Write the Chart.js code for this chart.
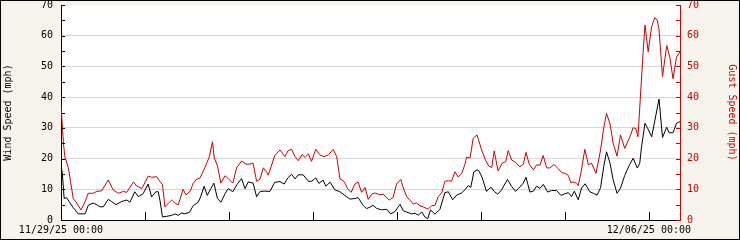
<!DOCTYPE html>
<html>
<head>
<meta charset="utf-8">
<script src="https://cdn.jsdelivr.net/npm/chart.js@4/dist/chart.umd.min.js"></script>
<style>
  html, body { margin: 0; padding: 0; background: #f5f3eb; }
  #wrap { width: 740px; height: 240px; }
</style>
</head>
<body>
<div id="wrap"><canvas id="chart" width="740" height="240"></canvas></div>
<script>
// hours since 11/29/25 00:00
const windHours = [0, 0.4, 0.9, 1.6, 2.3, 3.5, 4.9, 6.9, 7.8, 9.2, 10.2, 11.1, 12.1, 13.5, 14.5, 15.7, 17.3, 18.8, 19.7, 21.1, 22.1, 23.5, 24.9, 25.9, 27.1, 27.8, 28.3, 29.0, 30.2, 31.6, 32.6, 33.5, 34.5, 35.4, 36.7, 37.8, 39.2, 39.9, 40.9, 41.8, 42.8, 43.7, 44.7, 45.7, 46.9, 47.8, 49.1, 50.2, 51.6, 52.6, 53.5, 54.9, 55.9, 56.9, 58.3, 59.7, 61.1, 62.6, 63.8, 64.8, 65.9, 66.9, 67.8, 69.2, 70.7, 71.6, 72.8, 73.7, 74.9, 75.7, 76.9, 78.3, 79.7, 81.1, 82.6, 84.0, 84.9, 86.4, 87.3, 88.3, 89.2, 90.2, 91.6, 93.1, 94.2, 95.4, 96.9, 97.8, 99.2, 100.2, 101.1, 102.1, 103.1, 104.0, 104.8, 105.6, 106.9, 108.3, 109.7, 110.7, 111.9, 113.2, 114.5, 115.4, 116.4, 117.1, 118.0, 118.9, 119.4, 120.4, 121.6, 122.9, 123.8, 124.8, 125.9, 127.6, 128.8, 129.9, 131.1, 132.1, 132.9, 134.0, 135.0, 135.9, 136.9, 137.8, 139.1, 140.2, 141.6, 142.9, 143.8, 145.0, 145.9, 146.7, 147.8, 148.8, 149.8, 151.1, 152.1, 153.2, 154.2, 155.1, 155.9, 156.9, 157.8, 158.9, 159.9, 161.1, 162.4, 163.5, 164.7, 165.4, 165.9, 166.9, 167.6, 168.8, 169.7, 170.9, 171.9, 173.1, 173.8, 174.9, 175.9, 176.9];
const windSpeed = [18, 15, 7, 7.3, 6, 4, 2, 2, 4.8, 5.5, 5, 4.3, 4.3, 6.7, 6, 5, 6, 6.5, 5.8, 9.2, 7.6, 8.6, 11.7, 7.5, 9.2, 9.2, 6.3, 1, 1.2, 1.5, 2, 1.5, 2.3, 2, 2.5, 4.7, 5.8, 7.5, 11, 8, 10.2, 12, 7, 5.8, 8.6, 10.2, 9.2, 11.4, 13.5, 10.2, 12.4, 12, 7.6, 9.3, 9.4, 9.3, 12.3, 12.5, 11.7, 13.7, 14.9, 13.4, 14.7, 14.7, 12.6, 12.6, 13.7, 11.9, 13, 11, 12.3, 9.8, 9.2, 8, 6.8, 7, 7.3, 4.7, 3.7, 4.2, 4.8, 3.8, 3.3, 3.5, 2, 2.7, 5.1, 3, 2.4, 2, 2.2, 1.6, 2.6, 1, 0.4, 3.3, 1.9, 3.5, 8.9, 9.2, 6.6, 8.2, 8.8, 9.8, 11.2, 10.6, 15.7, 16.3, 16.1, 13.7, 9.3, 10.7, 9.3, 8.4, 9.8, 13.2, 10.9, 9.3, 10.7, 12, 13.9, 9.1, 9.4, 11, 10.3, 11.6, 9.1, 9.6, 9.6, 8, 8.5, 8.9, 7.6, 9.4, 6.6, 10.5, 11.8, 9.2, 8.7, 8.1, 10.5, 17.4, 22.2, 18.5, 13.1, 8.7, 10.4, 14.5, 17.8, 20.1, 16.9, 18.5, 23.8, 31.5, 30, 27.1, 32.3, 39.4, 26.9, 30.2, 28.4, 28.4, 31.5, 32];

const gustHours = [0, 0.7, 1.1, 2.1, 3.5, 4.5, 5.7, 6.7, 7.8, 9.2, 10.2, 11.6, 13.5, 14.9, 16.4, 17.8, 18.8, 20.7, 21.6, 23.1, 24.9, 25.9, 27.3, 28.3, 29.0, 29.7, 30.7, 31.6, 32.6, 33.5, 34.9, 35.7, 36.9, 37.8, 38.8, 39.7, 41.1, 42.4, 43.3, 43.8, 44.7, 45.7, 46.9, 47.8, 49.1, 50.2, 51.6, 52.9, 54.0, 54.9, 55.9, 56.9, 57.8, 58.8, 59.2, 60.2, 61.1, 62.6, 64.0, 64.9, 65.9, 66.9, 67.8, 68.9, 69.7, 70.7, 71.6, 72.8, 74.0, 75.2, 76.4, 77.8, 78.8, 79.7, 81.0, 81.9, 82.9, 84.0, 84.9, 85.9, 86.9, 87.8, 88.8, 89.7, 91.1, 92.1, 93.1, 93.8, 94.9, 95.9, 97.1, 97.8, 98.8, 99.7, 100.7, 101.6, 102.6, 103.5, 104.9, 105.9, 106.9, 107.8, 108.8, 109.7, 110.7, 111.6, 112.6, 113.5, 114.5, 115.4, 115.9, 116.9, 117.8, 118.9, 120.2, 121.3, 122.3, 123.1, 123.8, 124.9, 126.1, 127.1, 127.8, 128.8, 129.9, 131.1, 132.1, 132.9, 133.8, 135.0, 135.9, 136.9, 137.8, 138.8, 139.7, 140.9, 142.1, 143.1, 144.0, 145.0, 145.7, 146.4, 147.1, 147.8, 148.6, 149.7, 150.7, 151.6, 152.9, 154.2, 155.1, 155.9, 156.9, 157.8, 158.9, 159.9, 161.1, 162.6, 163.5, 164.3, 164.9, 165.7, 166.4, 166.9, 167.8, 168.8, 169.7, 170.4, 170.9, 171.9, 173.1, 174.0, 174.9, 175.9, 176.9];
const gustSpeed = [37.4, 25, 20.6, 17, 7, 5.5, 3.3, 5.5, 8.7, 8.7, 9.3, 9.5, 13, 9.8, 8.7, 9.3, 9, 12.4, 11.1, 10.2, 14.3, 13.9, 14.1, 12.5, 11.5, 4.3, 5.5, 6.5, 5.5, 4.9, 10, 8.2, 9.3, 12, 13.3, 13.6, 17, 20.6, 25.5, 20.2, 17.7, 12, 14.4, 13.5, 12, 17, 19.2, 18.2, 18.2, 18.5, 12.6, 13.3, 17, 15.5, 14.6, 17.9, 21, 22.8, 20.6, 22.6, 23, 20.6, 19.3, 21.3, 20.4, 21.5, 19.1, 23, 21.2, 20.6, 21.2, 23, 20.6, 13.5, 12.4, 10.2, 9, 11.7, 12.4, 9, 10.6, 6.7, 8.4, 8.8, 8.2, 8.4, 7.2, 6.5, 7.3, 11.7, 13.2, 10.5, 7.6, 6.5, 5.2, 5.6, 4.6, 4.3, 3.5, 4.6, 4.8, 7.6, 8.8, 12.6, 12.8, 12.6, 15.7, 14, 15.1, 18, 20.4, 20.2, 26.6, 27.7, 22.8, 19.5, 17.5, 17.1, 22.5, 16, 18.5, 19, 22.6, 19.5, 18.8, 17.3, 18.1, 22, 18.2, 16.3, 17.9, 17.9, 21, 17, 16.9, 18.1, 16.7, 15.4, 15.2, 14.5, 12.1, 12.4, 12.1, 11.2, 15.4, 23, 18, 18.5, 15.2, 22.8, 29.9, 34.7, 31.3, 25, 20.8, 27.7, 23.3, 27.1, 30, 29.8, 27.1, 42.3, 55.4, 63.5, 54.8, 63, 65.9, 65, 62, 46.7, 56.8, 53, 46, 53, 54.8];

// one tick per day at midnight, only two of them labelled
const dayTicks = [0, 24, 48, 72, 96, 120, 144, 168];
const xTickHours = [0, 168];
const xTickLabels = ['11/29/25 00:00', '12/06/25 00:00'];

const RED = '#cc0000';
const FONT = { family: '"DejaVu Sans Mono", monospace', size: 10 };

// ticks drawn inward, like the original graph
const innerTicks = {
  id: 'innerTicks',
  afterDraw(chart) {
    const { ctx, chartArea: a, scales: { x, y, y2 } } = chart;
    ctx.save();
    ctx.lineWidth = 1;
    for (let v = 0; v <= 70; v += 5) {
      const py = Math.round(y.getPixelForValue(v)) + 0.5;
      ctx.strokeStyle = '#000';
      ctx.beginPath(); ctx.moveTo(a.left, py); ctx.lineTo(a.left + 4, py); ctx.stroke();
      const py2 = Math.round(y2.getPixelForValue(v)) + 0.5;
      ctx.strokeStyle = RED;
      ctx.beginPath(); ctx.moveTo(a.right - 4, py2); ctx.lineTo(a.right, py2); ctx.stroke();
    }
    ctx.strokeStyle = '#000';
    dayTicks.forEach(h => {
      const px = Math.round(x.getPixelForValue(h)) + 0.5;
      ctx.beginPath(); ctx.moveTo(px, a.bottom); ctx.lineTo(px, a.bottom - 8); ctx.stroke();
    });
    // frame round the whole picture
    ctx.strokeStyle = '#000';
    ctx.strokeRect(0.5, 0.5, chart.width - 1, chart.height - 1);
    ctx.restore();
  }
};

const plotBg = {
  id: 'plotBg',
  beforeDraw(chart) {
    const { ctx, chartArea: a } = chart;
    ctx.save();
    ctx.fillStyle = '#fff';
    ctx.fillRect(a.left, a.top, a.right - a.left, a.bottom - a.top);
    ctx.restore();
  }
};

// fixed box sizes so the plot sits where it does in the original
const fitY = w => s => { s.width = w; s.paddingTop = 0; s.paddingBottom = 0; };

new Chart(document.getElementById('chart'), {
  type: 'line',
  data: {
    datasets: [{
      label: 'Wind Speed',
      data: windHours.map((h, i) => ({ x: h, y: windSpeed[i] })),
      borderColor: '#000',
      borderWidth: 1,
      pointRadius: 0,
      tension: 0,
      yAxisID: 'y'
    }, {
      label: 'Gust Speed',
      data: gustHours.map((h, i) => ({ x: h, y: gustSpeed[i] })),
      borderColor: RED,
      borderWidth: 1,
      pointRadius: 0,
      tension: 0,
      yAxisID: 'y2'
    }]
  },
  options: {
    responsive: false,
    animation: false,
    devicePixelRatio: 1,
    layout: { padding: { top: 5, left: 0, right: 0, bottom: 0 } },
    plugins: { legend: { display: false }, tooltip: { enabled: false } },
    scales: {
      x: {
        type: 'linear',
        min: 0,
        max: 176.9,
        afterBuildTicks: s => { s.ticks = xTickHours.map(v => ({ value: v })); },
        afterFit: s => { s.height = 20; s.paddingLeft = 0; s.paddingRight = 0; },
        grid: { drawOnChartArea: false, drawTicks: false },
        border: { color: '#000', width: 1 },
        ticks: {
          autoSkip: false,
          maxRotation: 0,
          padding: 4,
          color: '#000',
          font: FONT,
          callback: v => {
            const i = xTickHours.indexOf(v);
            return i < 0 ? '' : xTickLabels[i];
          }
        }
      },
      y: {
        position: 'left',
        min: 0,
        max: 70,
        afterFit: fitY(61),
        grid: {
          drawTicks: false,
          color: c => (c.tick.value === 0 || c.tick.value === 70) ? 'rgba(0,0,0,0)' : '#d6d6d6'
        },
        border: { color: '#000', width: 1 },
        ticks: { stepSize: 10, padding: 8, color: '#000', font: FONT },
        title: { display: true, text: 'Wind Speed (mph)', color: '#000', font: FONT, padding: { top: 2, bottom: 0 } }
      },
      y2: {
        position: 'right',
        min: 0,
        max: 70,
        afterFit: fitY(60),
        grid: { drawOnChartArea: false, drawTicks: false },
        border: { color: RED, width: 1 },
        ticks: { stepSize: 10, padding: 7, color: RED, font: FONT },
        title: { display: true, text: 'Gust Speed (mph)', color: RED, font: FONT, padding: { top: 2, bottom: 0 } }
      }
    }
  },
  plugins: [plotBg, innerTicks]
});
</script>
</body>
</html>
